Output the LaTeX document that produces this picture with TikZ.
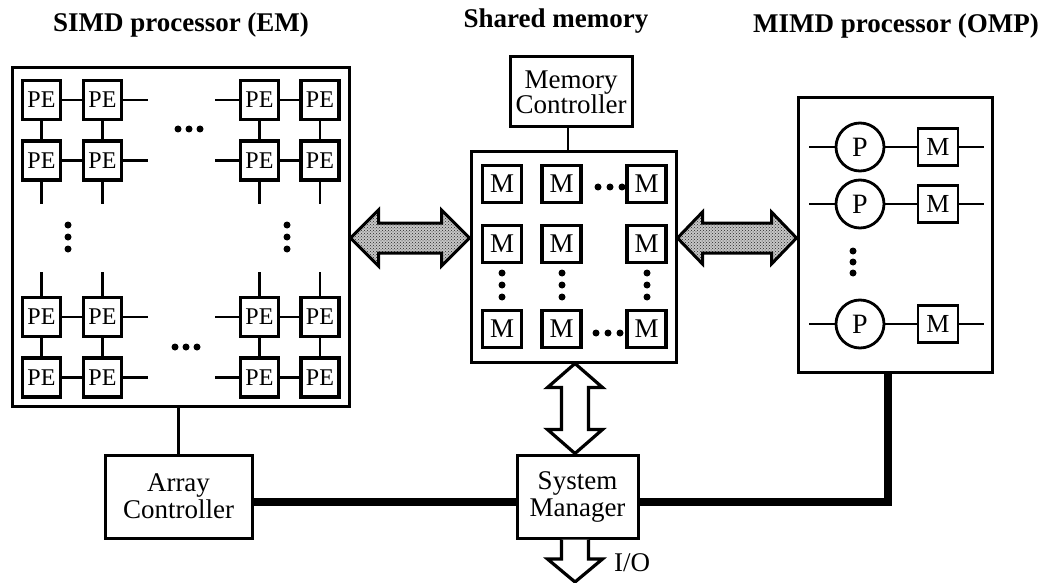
\documentclass[tikz,border=0pt]{standalone}
\usepackage{fontspec}
\setmainfont{Liberation Serif}
\usetikzlibrary{calc,patterns}
\begin{document}
\begin{tikzpicture}[x=1pt,y=-1pt,
  title/.style={font=\bfseries\fontsize{27}{30}\selectfont, inner sep=0},
  outer/.style={draw, line width=3, inner sep=0},
  label/.style={draw, line width=3, inner sep=0, align=center,
    font=\fontsize{27}{31}\selectfont},
  pe/.style={draw, line width=3.6, fill=white, minimum width=38, minimum height=39,
    inner sep=0, font=\fontsize{24}{24}\selectfont},
  mb/.style={draw, line width=3.6, fill=white, minimum width=39, minimum height=37,
    inner sep=0, font=\fontsize{27}{27}\selectfont},
  mm/.style={draw, line width=2.8, fill=white, minimum width=40, minimum height=37,
    inner sep=0, font=\fontsize{26}{26}\selectfont},
  pc/.style={draw, circle, line width=2.8, fill=white, minimum size=48,
    inner sep=0, font=\fontsize{28}{28}\selectfont},
  link/.style={line width=2.8},
  bus/.style={line width=7.5},
  dotmark/.style={circle, fill=black, minimum size=7, inner sep=0},
  hatch/.style={line width=3, line join=miter, preaction={fill=gray!45},
    pattern=crosshatch dots, pattern color=black!85},
  hollow/.style={line width=3.2, line join=miter, fill=white, draw=black}
]
\useasboundingbox (0,0) rectangle (1050,583);

% ---------- headings ----------
\node[title] (tsimd) at (181,25) {SIMD processor (EM)};
\node[title] (tshm)  at (556,21) {Shared memory};
\node[title] (tmimd) at (896,26) {MIMD processor (OMP)};

% ---------- SIMD processor array ----------
\node[outer, minimum width=337, minimum height=338] (simd) at (180.5,237) {};
\foreach \c/\x in {1/41.5,2/102.5,3/259.5,4/320}
  \foreach \r/\y in {1/100,2/160.5,3/317,4/377.5}
    \node[pe] (pe\r\c) at (\x,\y) {PE};
\foreach \r in {1,...,4} {
  \draw[link] (pe\r1) -- (pe\r2);
  \draw[link] (pe\r3) -- (pe\r4);
  \draw[link] (pe\r2.east) -- ++(25,0);
  \draw[link] (pe\r3.west) -- ++(-24,0);
}
\foreach \c in {1,...,4} {
  \draw[link] (pe1\c) -- (pe2\c);
  \draw[link] (pe3\c) -- (pe4\c);
  \draw[link] (pe2\c.south) -- ++(0,22);
  \draw[link] (pe3\c.north) -- ++(0,-24);
}
\foreach \x in {178,189,200} \node[dotmark] at (\x,129) {};
\foreach \x in {175,186,197} \node[dotmark] at (\x,347) {};
\foreach \y in {225,237,249} {
  \node[dotmark] at (68,\y) {};
  \node[dotmark] at (287,\y) {};
}

% ---------- shared memory ----------
\node[label, minimum width=122, minimum height=70] (mc) at (571,92) {Memory\\[-6pt]Controller};
\node[outer, minimum width=205, minimum height=210] (shm) at (573.5,257) {};
\draw[link] (mc.south -| 568,0) -- (shm.north -| 568,0);
\foreach \c/\x in {1/502,2/561.5,3/646.5}
  \foreach \r/\y in {1/184,2/244,3/329}
    \node[mb] (m\r\c) at (\x,\y) {M};
\foreach \x in {598,610,622} \node[dotmark] at (\x,187) {};
\foreach \x in {596,608,620} \node[dotmark] at (\x,333) {};
\foreach \y in {273,285,297} {
  \node[dotmark] at (502,\y) {};
  \node[dotmark] at (562,\y) {};
  \node[dotmark] at (647,\y) {};
}

% ---------- MIMD processor ----------
\node[outer, minimum width=194, minimum height=274] (mimd) at (895,235) {};
\foreach \i/\y in {1/147,2/204,3/324} {
  \node[pc] (p\i) at (860,\y) {P};
  \node[mm] (pm\i) at (938,\y) {M};
  \draw[link] (p\i.west) -- ++(-26,0);
  \draw[link] (p\i) -- (pm\i);
  \draw[link] (pm\i.east) -- ++(25,0);
}
\foreach \y in {251,262,273} \node[dotmark] at (853,\y) {};

% ---------- controllers ----------
\node[label, minimum width=147, minimum height=83] (ac) at (178.5,496.5) {Array\\[-4pt]Controller};
\node[label, minimum width=121, minimum height=83] (sm) at (577.5,496.5) {System\\[-4pt]Manager};
\draw[link, line width=3.4] (ac.north) -- (ac.north |- simd.south);
\draw[bus] (ac.east |- 0,502) -- (sm.west |- 0,502);
\draw[bus, line join=miter] (sm.east |- 0,502) -| (mimd.south -| 888,0);

% ---------- wide data paths ----------
\coordinate (a1l) at (simd.east |- 0,238);
\coordinate (a1r) at (shm.west |- 0,238);
\draw[hatch] (a1l) -- ($(a1l)+(28,-28)$) -- ($(a1l)+(28,-15)$) -- ($(a1r)+(-28,-15)$)
  -- ($(a1r)+(-28,-28)$) -- (a1r) -- ($(a1r)+(-28,28)$) -- ($(a1r)+(-28,15)$)
  -- ($(a1l)+(28,15)$) -- ($(a1l)+(28,28)$) -- cycle;

\coordinate (a2l) at (shm.east |- 0,238);
\coordinate (a2r) at (mimd.west |- 0,238);
\draw[hatch] (a2l) -- ($(a2l)+(25,-26)$) -- ($(a2l)+(25,-15)$) -- ($(a2r)+(-25,-15)$)
  -- ($(a2r)+(-25,-26)$) -- (a2r) -- ($(a2r)+(-25,26)$) -- ($(a2r)+(-25,15)$)
  -- ($(a2l)+(25,15)$) -- ($(a2l)+(25,26)$) -- cycle;

\coordinate (a3t) at (shm.south -| 575,0);
\coordinate (a3b) at (sm.north -| 575,0);
\draw[hollow] (a3t) -- ($(a3t)+(27.5,24)$) -- ($(a3t)+(13.5,24)$) -- ($(a3b)+(13.5,-24)$)
  -- ($(a3b)+(27.5,-24)$) -- (a3b) -- ($(a3b)+(-27.5,-24)$) -- ($(a3b)+(-13.5,-24)$)
  -- ($(a3t)+(-13.5,24)$) -- ($(a3t)+(-27.5,24)$) -- cycle;

\coordinate (io) at (575,582);
\draw[hollow] ($(sm.south -| 575,0)+(-13.5,0)$) -- ($(io)+(-13.5,-23)$) -- ($(io)+(-27.5,-23)$)
  -- (io) -- ($(io)+(27.5,-23)$) -- ($(io)+(13.5,-23)$) -- ($(sm.south -| 575,0)+(13.5,0)$);
\node[font=\fontsize{27}{27}\selectfont, inner sep=0, anchor=west] (iol) at (614,563) {I/O};
\end{tikzpicture}
\end{document}
